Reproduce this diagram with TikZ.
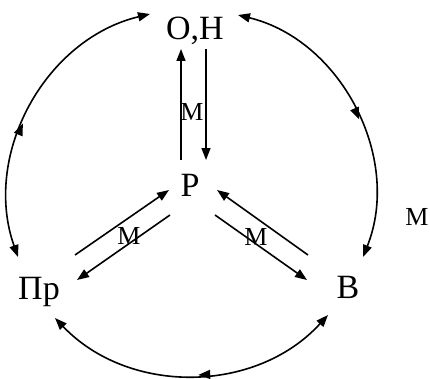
\documentclass[tikz,border=0pt]{standalone}
\usepackage{fontspec}
\setmainfont{Liberation Serif}
\usetikzlibrary{arrows.meta,calc,decorations.markings}

\begin{document}
\begin{tikzpicture}[x=1pt,y=1pt,>={Triangle[length=12pt,width=9pt]},
 lbl/.style={inner sep=0pt,font=\fontsize{34}{38}\selectfont},
 mlbl/.style={inner sep=0pt,font=\fontsize{26}{30}\selectfont},
 arr/.style={->,line width=1.6pt},
 ring/.style={<->,line width=1.6pt,postaction={decorate},
  decoration={markings,mark=at position #1 with {\arrow{>}}}},
 ring/.default=0.5]
\useasboundingbox (0,0) rectangle (430,378);
\node[lbl] (on) at (195,347) {О,Н};
\node[lbl] (r) at (190,193) {Р};
\node[lbl] (pr) at (39,86) {Пр};
\node[lbl] (v) at (348,91) {В};
\node[mlbl] (mv) at (192,266) {М};
\node[mlbl] (ml) at (129,142) {М};
\node[mlbl] (mr) at (256,141) {М};
\node[mlbl] (mo) at (417,161) {М};
% inner arrows
\draw[arr] ($(r)+(-9,25)$) -- ($(on)+(-14,-18)$);
\draw[arr] ($(on)+(11,-18)$) -- ($(r)+(16,25)$);
\draw[arr] ($(pr)+(36,37)$) -- ($(r)+(-21,-5)$);
\draw[arr] ($(r)+(-20,-30)$) -- ($(pr)+(38,12)$);
\draw[arr] ($(v)+(-40,32)$) -- ($(r)+(27,-5)$);
\draw[arr] ($(r)+(25,-30)$) -- ($(v)+(-41,7)$);
% outer ring
\draw[ring=0.44] ($(pr)+(-21,35)$) to[bend left=48] ($(on)+(-45,17)$);
\draw[ring=0.54] ($(on)+(43,16)$) to[bend left=49] ($(v)+(15,30)$);
\draw[ring=0.48] ($(v)+(-20,-28)$) to[bend left=47] ($(pr)+(16,-26)$);
\end{tikzpicture}
\end{document}
